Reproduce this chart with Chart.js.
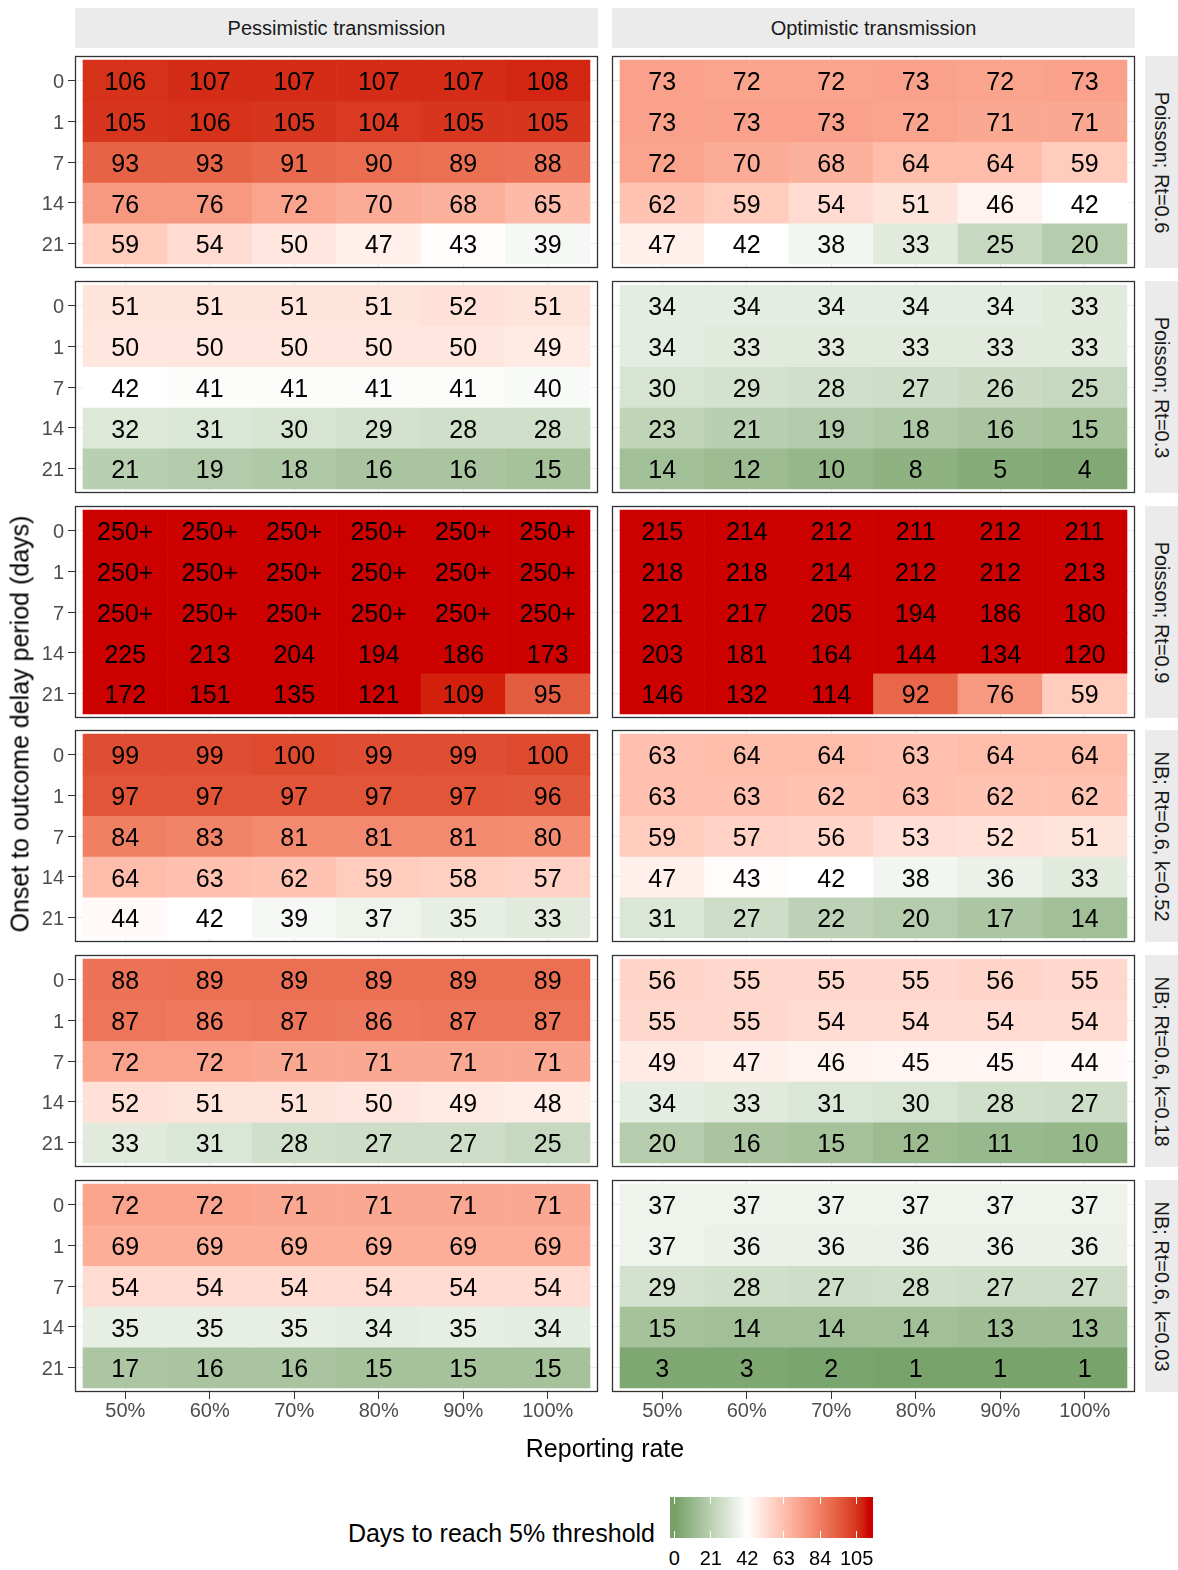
<!DOCTYPE html>
<html>
<head>
<meta charset="utf-8">
<script src="https://cdn.jsdelivr.net/npm/chart.js@4.4.1/dist/chart.umd.min.js"></script>
<style>
  body { margin: 0; background: #fff; font-family: 'Liberation Sans', Arial, sans-serif; }
  #fig { position: relative; width: 1178px; height: 1570px; overflow: hidden; }
  .strip { position: absolute; background: #ebebeb; color: #1a1a1a; font-size: 20px;
           display: flex; align-items: center; justify-content: center; }
  .strip span { white-space: nowrap; }
  .strip.side span { transform: rotate(90deg); }
  .panel { position: absolute; }
  .txt { position: absolute; white-space: nowrap; color: #000; }
</style>
</head>
<body>
<div id="fig"></div>
<script>
// categories
const rates = ['50%', '60%', '70%', '80%', '90%', '100%'];
const delays = ['0', '1', '7', '14', '21'];
const transmissions = ['Pessimistic transmission', 'Optimistic transmission'];
const scenarios = ['Poisson; Rt=0.6', 'Poisson; Rt=0.3', 'Poisson; Rt=0.9',
                   'NB; Rt=0.6, k=0.52', 'NB; Rt=0.6, k=0.18', 'NB; Rt=0.6, k=0.03'];

// days to reach threshold, rows = delay, cols = reporting rate (250 = "250+")
const pessPoisson06 = [[106,107,107,107,107,108],[105,106,105,104,105,105],[93,93,91,90,89,88],[76,76,72,70,68,65],[59,54,50,47,43,39]];
const pessPoisson03 = [[51,51,51,51,52,51],[50,50,50,50,50,49],[42,41,41,41,41,40],[32,31,30,29,28,28],[21,19,18,16,16,15]];
const pessPoisson09 = [[250,250,250,250,250,250],[250,250,250,250,250,250],[250,250,250,250,250,250],[225,213,204,194,186,173],[172,151,135,121,109,95]];
const pessNB052 = [[99,99,100,99,99,100],[97,97,97,97,97,96],[84,83,81,81,81,80],[64,63,62,59,58,57],[44,42,39,37,35,33]];
const pessNB018 = [[88,89,89,89,89,89],[87,86,87,86,87,87],[72,72,71,71,71,71],[52,51,51,50,49,48],[33,31,28,27,27,25]];
const pessNB003 = [[72,72,71,71,71,71],[69,69,69,69,69,69],[54,54,54,54,54,54],[35,35,35,34,35,34],[17,16,16,15,15,15]];

const optPoisson06 = [[73,72,72,73,72,73],[73,73,73,72,71,71],[72,70,68,64,64,59],[62,59,54,51,46,42],[47,42,38,33,25,20]];
const optPoisson03 = [[34,34,34,34,34,33],[34,33,33,33,33,33],[30,29,28,27,26,25],[23,21,19,18,16,15],[14,12,10,8,5,4]];
const optPoisson09 = [[215,214,212,211,212,211],[218,218,214,212,212,213],[221,217,205,194,186,180],[203,181,164,144,134,120],[146,132,114,92,76,59]];
const optNB052 = [[63,64,64,63,64,64],[63,63,62,63,62,62],[59,57,56,53,52,51],[47,43,42,38,36,33],[31,27,22,20,17,14]];
const optNB018 = [[56,55,55,55,56,55],[55,55,54,54,54,54],[49,47,46,45,45,44],[34,33,31,30,28,27],[20,16,15,12,11,10]];
const optNB003 = [[37,37,37,37,37,37],[37,36,36,36,36,36],[29,28,27,28,27,27],[15,14,14,14,13,13],[3,3,2,1,1,1]];

const pessimistic = [pessPoisson06, pessPoisson03, pessPoisson09, pessNB052, pessNB018, pessNB003];
const optimistic = [optPoisson06, optPoisson03, optPoisson09, optNB052, optNB018, optNB003];

const legendBreaks = [0, 21, 42, 63, 84, 105];

// colour scale: gradient2 style, darkgreen - white - red3, midpoint 42
const scaleMid = 42, scaleHalf = 70;
const lowCol = '#006400', midCol = '#ffffff', highCol = '#cd0000';

function toLin(c) { c /= 255; return c <= 0.04045 ? c / 12.92 : Math.pow((c + 0.055) / 1.055, 2.4); }
function fromLin(c) { c = c <= 0.0031308 ? 12.92 * c : 1.055 * Math.pow(c, 1 / 2.4) - 0.055; return Math.round(Math.max(0, Math.min(1, c)) * 255); }
function hexToLab(h) {
    const r = toLin(parseInt(h.slice(1, 3), 16)), g = toLin(parseInt(h.slice(3, 5), 16)), b = toLin(parseInt(h.slice(5, 7), 16));
    const X = (0.4124 * r + 0.3576 * g + 0.1805 * b) / 0.95047;
    const Y = 0.2126 * r + 0.7152 * g + 0.0722 * b;
    const Z = (0.0193 * r + 0.1192 * g + 0.9505 * b) / 1.08883;
    const f = t => t > 0.008856 ? Math.cbrt(t) : 7.787 * t + 16 / 116;
    return [116 * f(Y) - 16, 500 * (f(X) - f(Y)), 200 * (f(Y) - f(Z))];
}
function labToRgb([L, A, B]) {
    const fy = (L + 16) / 116, fx = fy + A / 500, fz = fy - B / 200;
    const inv = t => t * t * t > 0.008856 ? t * t * t : (t - 16 / 116) / 7.787;
    const X = inv(fx) * 0.95047, Y = inv(fy), Z = inv(fz) * 1.08883;
    const r = 3.2406 * X - 1.5372 * Y - 0.4986 * Z;
    const g = -0.9689 * X + 1.8758 * Y + 0.0415 * Z;
    const b = 0.0557 * X - 0.2040 * Y + 1.0570 * Z;
    return 'rgb(' + fromLin(r) + ',' + fromLin(g) + ',' + fromLin(b) + ')';
}
const labLow = hexToLab(lowCol), labMid = hexToLab(midCol), labHigh = hexToLab(highCol);

function fillColour(v) {
    let t = (v - scaleMid) / scaleHalf;
    t = Math.max(-0.6, Math.min(1, t));
    const end = t < 0 ? labLow : labHigh;
    const k = Math.abs(t);
    return labToRgb(labMid.map((m, i) => m + (end[i] - m) * k));
}

const FONT = "'Liberation Sans', Arial, sans-serif";
Chart.defaults.font.family = FONT;

const cellText = {
    id: 'cellText',
    afterDatasetsDraw(chart) {
        const ctx = chart.ctx;
        ctx.save();
        ctx.font = '25px ' + FONT;
        ctx.fillStyle = '#000';
        ctx.textAlign = 'center';
        ctx.textBaseline = 'middle';
        chart.data.datasets.forEach((ds, i) => {
            chart.getDatasetMeta(i).data.forEach((bar, j) => {
                ctx.fillText(ds.cellLabels[j], bar.x, (bar.y + bar.base) / 2 + 3);
            });
        });
        ctx.restore();
    }
};

const panelBox = {
    id: 'panelBox',
    afterDraw(chart) {
        const a = chart.chartArea, ctx = chart.ctx;
        ctx.save();
        ctx.strokeStyle = '#333';
        ctx.lineWidth = 1.3;
        ctx.strokeRect(a.left + 0.5, a.top + 0.5, a.right - a.left - 1, a.bottom - a.top - 1);
        ctx.restore();
    }
};

const fig = document.getElementById('fig');
const colLeft = [75, 612];
const panelW = 523, panelH = 212;
const rowTop = i => Math.round(56 + i * 224.8);
const padX = 0.095, padY = 0.1;

function addDiv(cls, css, html) {
    const d = document.createElement('div');
    d.className = cls;
    Object.assign(d.style, css);
    d.innerHTML = html;
    fig.appendChild(d);
    return d;
}

// column strips
transmissions.forEach((t, c) => {
    addDiv('strip', { left: colLeft[c] + 'px', top: '8px', width: panelW + 'px', height: '40px' }, '<span>' + t + '</span>');
});
// row strips
scenarios.forEach((s, r) => {
    addDiv('strip side', { left: '1145px', top: rowTop(r) + 'px', width: '33px', height: panelH + 'px' }, '<span>' + s + '</span>');
});

function makePanel(r, c, values) {
    const bottom = r === scenarios.length - 1;
    const mL = c === 0 ? 75 : 2, mR = 2, mT = 2, mB = bottom ? 45 : 2;
    const wrap = document.createElement('div');
    wrap.className = 'panel';
    const w = panelW + mL + mR, h = panelH + mT + mB;
    Object.assign(wrap.style, { left: (colLeft[c] - mL) + 'px', top: (rowTop(r) - mT) + 'px', width: w + 'px', height: h + 'px' });
    const canvas = document.createElement('canvas');
    canvas.width = w;
    canvas.height = h;
    wrap.appendChild(canvas);
    fig.appendChild(wrap);

    const datasets = delays.map((d, i) => ({
        data: rates.map((_, j) => ({ x: j, y: [i, i + 1] })),
        backgroundColor: values[i].map(fillColour),
        cellLabels: values[i].map(v => v >= 250 ? '250+' : String(v)),
        grouped: false,
        borderWidth: 0,
        categoryPercentage: 1,
        barPercentage: 1
    }));

    new Chart(canvas, {
        type: 'bar',
        data: { datasets: datasets },
        options: {
            responsive: false,
            animation: false,
            events: [],
            layout: { padding: { left: c === 0 ? 0 : 2, right: 2, top: 2, bottom: bottom ? 0 : 2 } },
            plugins: { legend: { display: false }, tooltip: { enabled: false } },
            scales: {
                x: {
                    type: 'linear',
                    offset: false,
                    min: -0.5 - padX,
                    max: rates.length - 0.5 + padX,
                    afterBuildTicks: s => { s.ticks = rates.map((_, j) => ({ value: j })); },
                    afterFit: s => { s.height = bottom ? 45 : 0; s.paddingLeft = 0; s.paddingRight = 0; },
                    ticks: {
                        display: bottom,
                        autoSkip: false,
                        maxRotation: 0,
                        padding: 0,
                        color: '#4d4d4d',
                        font: { size: 20 },
                        callback: (v, j) => rates[j]
                    },
                    grid: { color: '#ebebeb', lineWidth: 1, drawTicks: bottom, tickLength: 7, tickColor: '#333', offset: false },
                    border: { display: false }
                },
                y: {
                    type: 'linear',
                    reverse: true,
                    min: -padY,
                    max: delays.length + padY,
                    afterBuildTicks: s => { s.ticks = delays.map((_, i) => ({ value: i + 0.5 })); },
                    afterFit: s => { s.width = c === 0 ? 75 : 0; s.paddingTop = 0; s.paddingBottom = 0; },
                    ticks: {
                        display: c === 0,
                        padding: 4,
                        labelOffset: 2,
                        color: '#4d4d4d',
                        font: { size: 20 },
                        callback: (v, i) => delays[i]
                    },
                    grid: { color: '#ebebeb', lineWidth: 1, drawTicks: c === 0, tickLength: 7, tickColor: '#333' },
                    border: { display: false }
                }
            }
        },
        plugins: [cellText, panelBox]
    });
}

scenarios.forEach((s, r) => {
    makePanel(r, 0, pessimistic[r]);
    makePanel(r, 1, optimistic[r]);
});

// axis titles
addDiv('txt', { left: '605px', top: '1448px', fontSize: '25px', transform: 'translate(-50%, -50%)' }, 'Reporting rate');
addDiv('txt', { left: '20px', top: '724px', fontSize: '25px', transform: 'translate(-50%, -50%) rotate(-90deg)' }, 'Onset to outcome delay period (days)');

// colour legend
const barL = 670, barR = 873, barT = 1497, barH = 41;
const legLo = -2.4, legHi = 114.8;
const zeroX = 674.3, pxPerUnit = (856.7 - 674.3) / 105;
addDiv('txt', { left: '655px', top: '1533px', fontSize: '25px', transform: 'translate(-100%, -50%)' }, 'Days to reach 5% threshold');
const stops = [];
for (let k = 0; k <= 80; k++) {
    const v = legLo + (legHi - legLo) * k / 80;
    stops.push(fillColour(Math.max(0, v)) + ' ' + (k / 80 * 100).toFixed(2) + '%');
}
addDiv('txt', { left: barL + 'px', top: barT + 'px', width: (barR - barL) + 'px', height: barH + 'px',
    background: 'linear-gradient(to right,' + stops.join(',') + ')' }, '');
legendBreaks.forEach(b => {
    const x = zeroX + b * pxPerUnit;
    addDiv('txt', { left: (x - 0.5) + 'px', top: barT + 'px', width: '1px', height: '7px', background: '#fff' }, '');
    addDiv('txt', { left: (x - 0.5) + 'px', top: (barT + barH - 7) + 'px', width: '1px', height: '7px', background: '#fff' }, '');
    addDiv('txt', { left: x + 'px', top: '1558px', fontSize: '20px', transform: 'translate(-50%, -50%)' }, String(b));
});
</script>
</body>
</html>
